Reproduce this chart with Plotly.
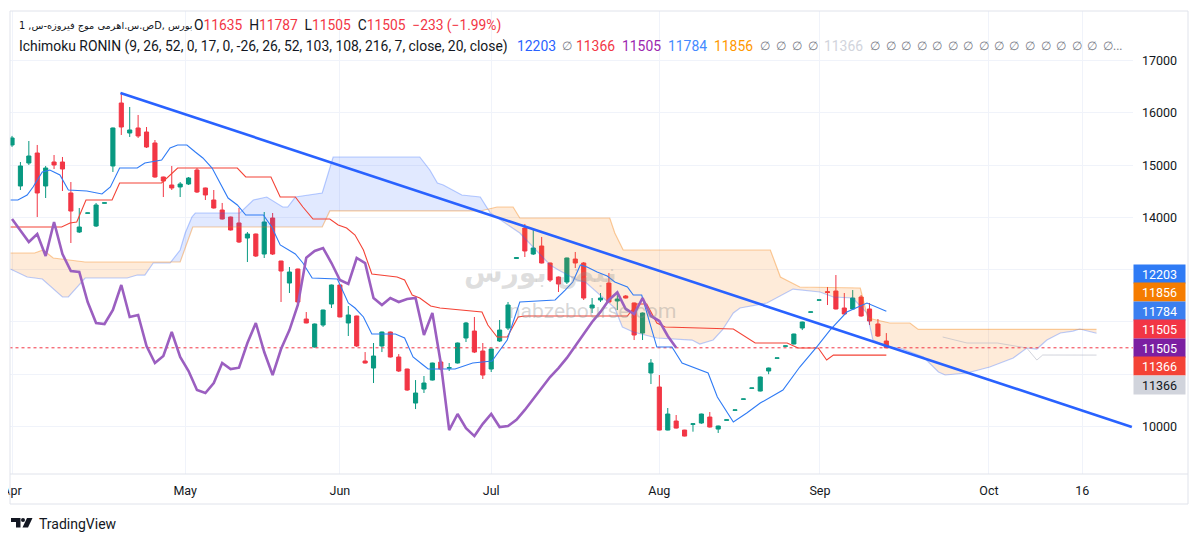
import numpy as np
import plotly.graph_objects as go

# ---------------- data ----------------
bar_index = list(range(105))
opens = [15387, 14602, 15042, 15233, 14602, 15061, 15061, 14468, 13721, 14080,
         13836, 14272, 14985, 16190, 15616, 15712, 15635, 15425, 14774, 14621,
         14583, 14640, 14908, 14564, 14334, 14142, 14008, 13894, 13606, 13683,
         13300, 13989, 13166, 12745, 13013, 12056, 11520, 11941, 12343, 12707,
         11980, 12114, 11252, 11118, 11540, 11807, 11329, 11099, 10448, 10716,
         10888, 11233, 11115, 11214, 11693, 11826, 11444, 11099, 11635, 11884,
         13215, 13798, 13300, 13453, 13128, 12860, 12764, 13204, 13128, 12267,
         12420, 12745, 12401, 12496, 12363, 11788, 11023, 10755, 9931, 10104,
         9931, 10040, 10066, 10180, 9950, 10118, 10310, 10520, 10730, 10678,
         11061, 11305, 11535, 11578, 11884, 12186, 12416, 12580, 12592, 12267,
         12248, 12477, 12248, 11961, 11635]
highs = [15560, 15061, 15463, 15387, 14985, 15195, 15157, 14678, 14181, 14090,
         14277, 14285, 15720, 16382, 16114, 15961, 15731, 15482, 14780, 14985,
         14678, 14774, 14946, 14570, 14525, 14277, 14015, 14181, 13721, 13690,
         14104, 14085, 13170, 13051, 13020, 12190, 11970, 12235, 12715, 12715,
         12305, 12120, 11424, 11597, 11815, 11815, 11385, 11105, 10888, 10965,
         11220, 11240, 11214, 11605, 12000, 12095, 11597, 11490, 12037, 12382,
         13235, 13875, 13760, 13626, 13135, 12870, 13230, 13339, 13147, 12458,
         12554, 12937, 12554, 12515, 12370, 12180, 11290, 10984, 10353, 10219,
         9935, 10060, 10245, 10276, 10015, 10128, 10318, 10528, 10738, 10955,
         11125, 11313, 11543, 11775, 12005, 12194, 12424, 12669, 12898, 12554,
         12611, 12515, 12363, 12056, 11787]
lows = [15350, 14525, 15004, 14008, 14372, 14927, 14506, 13511, 13702, 14078,
        13817, 14270, 14870, 15578, 15540, 15521, 15329, 14760, 14391, 14525,
        14391, 14621, 14468, 14334, 14170, 13960, 13750, 13511, 13147, 13243,
        13224, 13281, 12382, 12554, 12375, 11975, 11510, 11905, 12267, 12090,
        11731, 11520, 11205, 10831, 11424, 11320, 11042, 10680, 10333, 10640,
        10880, 11080, 11061, 11205, 11616, 11405, 10908, 11042, 11616, 11845,
        13210, 13243, 13281, 13120, 12765, 12573, 12726, 13032, 12420, 12171,
        12382, 12375, 12228, 12450, 11654, 11654, 10812, 9925, 9925, 9960,
        9810, 9900, 10050, 9980, 9875, 10118, 10310, 10520, 10730, 10670,
        11000, 11305, 11535, 11570, 11845, 12186, 12416, 12324, 12240, 12145,
        12228, 12100, 11941, 11712, 11505]
closes = [15521, 14985, 15176, 14468, 14946, 15004, 14927, 14123, 13817, 14086,
          14238, 14280, 15712, 15731, 15674, 15559, 15348, 14774, 14697, 14564,
          14640, 14755, 14487, 14430, 14181, 13970, 13760, 13530, 13683, 13262,
          13913, 13300, 12975, 12956, 12382, 11980, 11961, 12228, 12707, 12095,
          12133, 11540, 11214, 11348, 11807, 11329, 11061, 10697, 10640, 10831,
          11214, 11099, 11125, 11597, 11980, 11424, 10984, 11482, 11845, 12324,
          13230, 13358, 13415, 13128, 12802, 12726, 13224, 13128, 12458, 12324,
          12458, 12382, 12439, 12458, 11750, 12171, 11214, 9931, 10238, 9969,
          9816, 10050, 10238, 9989, 10008, 10126, 10316, 10526, 10736, 10946,
          11118, 11311, 11541, 11769, 11999, 12192, 12422, 12565, 12248, 12152,
          12458, 12114, 12018, 11731, 11505]

# Ichimoku lines (vertices: bar index, price)
tenkan_x = [-0.2, 0.7, 1.8, 2.5, 3.6, 4.5, 5.7, 6.7, 8.9, 10.7, 11.7, 12.8, 14.9, 15.8, 17.8,
            18.8, 19.7, 20.8, 21.8, 22.7, 23.8, 24.7, 25.7, 26.8, 27.8, 29.9, 30.9, 31.9,
            33.7, 34.6, 35.7, 38.7, 40.0, 40.8, 41.8, 42.8, 45.6, 46.7, 47.7, 48.9, 49.5,
            52.7, 54.8, 57.1, 58.9, 60.4, 64.6, 65.8, 66.7, 67.6, 68.4, 69.6, 70.8, 71.7,
            73.2, 73.9, 74.9, 76.7, 78.5, 79.7, 82.8, 83.9, 85.8, 87.4, 89.0, 91.7, 93.7,
            95.8, 97.3, 99.3, 101.7, 104]
tenkan_y = [14334, 14334, 14430, 14583, 14870, 14908, 14812, 14525, 14506, 14449, 14583,
            14946, 14946, 15042, 15100, 15329, 15387, 15387, 15253, 15138, 14946, 14659,
            14372, 14238, 14047, 14047, 13817, 13473, 13300, 13128, 12841, 12822, 12363,
            12267, 12095, 11769, 11769, 11693, 11329, 11176, 11099, 11099, 11214, 11252,
            11654, 12382, 12420, 12611, 12764, 13090, 13051, 12956, 12879, 12764, 12669,
            12515, 12515, 11520, 11520, 11214, 11023, 10563, 10084, 10257, 10448, 10697,
            11137, 11539, 11845, 12190, 12363, 12203]
kijun_x = [-0.2, 5.9, 6.9, 7.7, 8.8, 11.9, 12.8, 17.8, 19.7, 26.8, 27.8, 30.8, 31.9, 33.7,
           34.6, 35.8, 37.8, 38.8, 39.8, 40.8, 41.8, 42.8, 45.8, 46.7, 47.6, 48.5, 49.8,
           50.9, 55.9, 56.6, 57.7, 58.9, 60.2, 61.0, 73.2, 74.3, 75.5, 76.7, 77.7, 85.8,
           88.4, 92.2, 93.5, 95.9, 96.9, 97.7, 104]
kijun_y = [13817, 13817, 13894, 13913, 14334, 14334, 14659, 14659, 14946, 14946, 14774,
           14774, 14391, 14391, 14200, 13970, 13970, 13855, 13798, 13664, 13377, 12918,
           12860, 12802, 12515, 12458, 12305, 12267, 12190, 11941, 11712, 11712, 12095,
           12114, 12114, 12343, 12343, 11980, 11903, 11865, 11597, 11597, 11501, 11501,
           11271, 11367, 11366]
senkou_a_x = [-0.2, 1.8, 3.6, 4.8, 6.0, 6.7, 8.7, 13.7, 14.9, 15.8, 16.8, 18.8, 20.0, 20.6,
              21.4, 21.8, 27.1, 28.7, 30.3, 32.2, 32.8, 33.7, 36.9, 38.2, 48.5, 49.7, 50.6,
              51.3, 53.5, 55.7, 56.9, 60.4, 64.0, 65.0, 67.2, 68.2, 71.7, 72.6, 73.9, 76.7,
              80.9, 81.8, 83.4, 84.5, 85.8, 86.6, 89.8, 92.9, 96.1, 97.7, 100.0, 101.7,
              102.4, 104.1, 105.6, 108.4, 110.2, 111.0, 113.6, 116.3, 119.1, 120.7, 121.9,
              123.1, 124.7, 126.2, 127.0, 129]
senkou_a_y = [13013, 12860, 12822, 12650, 12477, 12477, 12841, 12841, 12898, 12898, 13128,
              13128, 13377, 13702, 14009, 14085, 14085, 14334, 14391, 14200, 14200, 14391,
              14468, 15157, 15157, 14908, 14659, 14621, 14430, 14391, 14085, 13702, 13090,
              12994, 12803, 12765, 12267, 11903, 11808, 11693, 11654, 11578, 11654, 11846,
              12171, 12267, 12363, 12630, 12573, 12477, 12458, 12171, 11654, 11520, 11501,
              11329, 11042, 10985, 11023, 11138, 11310, 11501, 11482, 11654, 11788, 11826,
              11865, 11784]
senkou_b_x = [-0.2, 2.7, 3.7, 4.9, 8.7, 20.0, 21.5, 36.9, 37.8, 55.7, 57.7, 59.6, 60.4,
              71.1, 71.7, 72.7, 90.2, 91.4, 93.7, 100.9, 101.8, 104.4, 106.8, 107.8, 129]
senkou_b_y = [13320, 13320, 13377, 13224, 13147, 13147, 13817, 13817, 14124, 14124, 14200,
              14200, 13989, 13989, 13702, 13377, 13377, 12860, 12669, 12650, 12075, 11980,
              11980, 11856, 11856]
extra_x = [110.7, 113.6, 117.2, 120.7, 121.9, 122.6, 129]
extra_y = [11712, 11597, 11597, 11501, 11271, 11367, 11366]
chikou_shift = 25

trend_x = [12.9, 133.2]
trend_y = [16382, 9991]

month_ticks = [0, 20.6, 39.0, 57.0, 77.0, 96.1, 116.2, 127.3]
month_labels = ["Apr", "May", "Jun", "Jul", "Aug", "Sep", "Oct", "16"]
price_ticks = [10000, 11000, 12000, 13000, 14000, 15000, 16000, 17000]
price_tick_text = ["10000", "", "", "", "14000", "15000", "16000", "17000"]

last_price = 11505
tag_values = [12203, 11856, 11784, 11505, 11505, 11366, 11366]
tag_colors = ["#2f7bf5", "#f57c00", "#3b7ff0", "#f23645", "#7b1fa2", "#f44336", "#d1d4dc"]
tag_text_colors = ["#ffffff"] * 6 + ["#131722"]

symbol_title = "ص.س.اهرمی موج فیروزه-س, 1D, بورس"
ohlc_labels = ["O", "H", "L", "C"]
ohlc_values = [11635, 11787, 11505, 11505]
change_text = "−233 (−1.99%)"
indicator_title = "Ichimoku RONIN (9, 26, 52, 0, 17, 0, -26, 26, 52, 103, 108, 216, 7, close, 20, close)"

# ---------------- geometry helpers (page pixels -> paper) ----------------
# the page body has an 8px margin, so the figure is drawn at page offset (8, 8)
OFF = 8
X0, X1, Y0, Y1 = 10, 1133, 11, 474      # plot area in page pixels
W, H = 1200, 543
def pxx(x):
    return (x - X0) / (X1 - X0)
def pxy(y):
    return (Y1 - y) / (Y1 - Y0)

fig = go.Figure()

# ---------------- cloud fill ----------------
xs = np.linspace(-0.2, 129, 4000)
a = np.interp(xs, senkou_a_x, senkou_a_y)
b = np.interp(xs, senkou_b_x, senkou_b_y)
up = a >= b
start = 0
for k in range(1, len(xs) + 1):
    if k == len(xs) or up[k] != up[start]:
        end = min(k + 1, len(xs))
        seg = slice(start, end)
        px_ = np.concatenate([xs[seg], xs[seg][::-1]])
        py_ = np.concatenate([a[seg], b[seg][::-1]])
        col = "rgba(41,98,255,0.14)" if up[start] else "rgba(245,124,0,0.15)"
        fig.add_trace(go.Scatter(x=px_, y=py_, fill="toself", fillcolor=col,
                                 mode="none", hoverinfo="skip", showlegend=False))
        start = k

fig.add_trace(go.Scatter(x=senkou_a_x, y=senkou_a_y, mode="lines",
                         line=dict(color="rgba(41,98,255,0.32)", width=1.2),
                         hoverinfo="skip", showlegend=False))
fig.add_trace(go.Scatter(x=senkou_b_x, y=senkou_b_y, mode="lines",
                         line=dict(color="rgba(245,124,0,0.38)", width=1.2),
                         hoverinfo="skip", showlegend=False))
fig.add_trace(go.Scatter(x=extra_x, y=extra_y, mode="lines",
                         line=dict(color="rgba(180,184,196,0.6)", width=1),
                         hoverinfo="skip", showlegend=False))

# last price dotted line
fig.add_trace(go.Scatter(x=[-0.3, 134], y=[last_price, last_price], mode="lines",
                         line=dict(color="#f23645", width=1, dash="dot"),
                         hoverinfo="skip", showlegend=False))

# kijun / tenkan
fig.add_trace(go.Scatter(x=kijun_x, y=kijun_y, mode="lines",
                         line=dict(color="#f44336", width=1.1),
                         hoverinfo="skip", showlegend=False))
fig.add_trace(go.Scatter(x=tenkan_x, y=tenkan_y, mode="lines",
                         line=dict(color="#2f7bf5", width=1.1),
                         hoverinfo="skip", showlegend=False))

# candles
fig.add_trace(go.Candlestick(
    x=bar_index, open=opens, high=highs, low=lows, close=closes,
    increasing=dict(line=dict(color="#089981", width=1), fillcolor="#089981"),
    decreasing=dict(line=dict(color="#f23645", width=1), fillcolor="#f23645"),
    hoverinfo="skip", showlegend=False))

# chikou (close shifted back)
chikou_x = [i - chikou_shift for i in bar_index if i >= chikou_shift]
chikou_y = [closes[i] for i in bar_index if i >= chikou_shift]
fig.add_trace(go.Scatter(x=chikou_x, y=chikou_y, mode="lines",
                         line=dict(color="#9b5fc0", width=2.6),
                         hoverinfo="skip", showlegend=False))

# trend line
fig.add_trace(go.Scatter(x=trend_x, y=trend_y, mode="lines",
                         line=dict(color="#2962ff", width=2.6),
                         hoverinfo="skip", showlegend=False))

# ---------------- annotations ----------------
ann = []
FONT = "Roboto, Noto Sans, sans-serif"
RED = "#f23645"
G = "#787b86"
NB = "\u00a0"

def txt(x, y, text, color="#131722", size=14, anchor="left", family=FONT):
    ann.append(dict(x=pxx(x), y=pxy(y), xref="paper", yref="paper", text=text,
                    showarrow=False, xanchor=anchor, yanchor="middle",
                    font=dict(family=family, size=size, color=color)))

# header line 1
txt(17, 26, symbol_title, size=9.8, family="DejaVu Sans, Noto Sans")
parts = []
for lab, val in zip(ohlc_labels, ohlc_values):
    parts.append(f"{lab}<span style='color:{RED}'>{val}</span>")
line1 = (NB + NB).join(parts) + NB + NB + f"<span style='color:{RED}'>{change_text}</span>"
txt(192, 26, line1, size=13.8)

# header line 2
txt(17, 46, indicator_title, size=13.9)
tokens = [("12203", "#2962ff", 515), ("∅", G, 560), ("11366", RED, 574),
          ("11505", "#9c27b0", 620), ("11784", "#448aff", 666), ("11856", "#ff9800", 712)]
tokens += [("∅", G, 758 + 16 * k) for k in range(4)]
tokens += [("11366", "#d1d4dc", 822)]
tokens += [("∅", G, 868 + 15.5 * k) for k in range(15)]
tokens += [("∅...", G, 1101)]
for t, c, x in tokens:
    txt(x, 46, t, color=c, size=12 if t.startswith("∅") else 13.9)

# price tags on the axis
tag_centers = [273.5, 292.2, 310.8, 329.3, 347.8, 366.3, 384.8]
for v, bg, fg, cy in zip(tag_values, tag_colors, tag_text_colors, tag_centers):
    ann.append(dict(x=pxx(1133), y=pxy(cy), xref="paper", yref="paper", text=str(v),
                    showarrow=False, xanchor="left", yanchor="middle", width=51,
                    height=18, bgcolor=bg, borderpad=0, align="center",
                    font=dict(family=FONT, size=12.5, color=fg)))

# watermark
txt(592, 311, "nabzebourse.com", color="rgba(140,140,140,0.35)", size=21, anchor="center")
txt(540, 272, "<b>نبض بورس</b>", color="rgba(140,140,140,0.28)", size=28, anchor="center",
    family="DejaVu Sans, Noto Sans")

# TradingView footer
txt(37, 523.5, "TradingView", size=14)

shapes = []
frame = "#e0e3eb"
def hline(y, xa, xb):
    shapes.append(dict(type="line", xref="paper", yref="paper", x0=pxx(xa), x1=pxx(xb),
                       y0=pxy(y), y1=pxy(y), line=dict(color=frame, width=1)))
def vline(x, ya, yb):
    shapes.append(dict(type="line", xref="paper", yref="paper", x0=pxx(x), x1=pxx(x),
                       y0=pxy(ya), y1=pxy(yb), line=dict(color=frame, width=1)))
hline(11, 10, 1188)
hline(474, 10, 1188)
hline(504, 10, 1188)
vline(10, 11, 504)
vline(1188, 11, 504)

def pth(points):
    return "M" + " L".join(f"{pxx(x):.5f},{pxy(y):.5f}" for x, y in points) + " Z"
logo = "#131722"
shapes.append(dict(type="path", xref="paper", yref="paper",
                   path=pth([(11, 518), (20.5, 518), (20.5, 527.5), (16, 527.5), (16, 522), (11, 522)]),
                   fillcolor=logo, line=dict(width=0)))
shapes.append(dict(type="circle", xref="paper", yref="paper",
                   x0=pxx(21), x1=pxx(25), y0=pxy(518), y1=pxy(522),
                   fillcolor=logo, line=dict(width=0)))
shapes.append(dict(type="path", xref="paper", yref="paper",
                   path=pth([(27, 518), (32.5, 518), (28, 527.5), (22.5, 527.5)]),
                   fillcolor=logo, line=dict(width=0)))

fig.update_layout(
    width=W, height=H,
    margin=dict(l=X0 - OFF, r=W - (X1 - OFF), t=Y0 - OFF, b=H - (Y1 - OFF), autoexpand=False),
    paper_bgcolor="#ffffff", plot_bgcolor="#ffffff",
    showlegend=False,
    annotations=ann, shapes=shapes,
    font=dict(family=FONT, color="#131722"),
    xaxis=dict(range=[-0.24, 133.34], tickvals=month_ticks, ticktext=month_labels,
               showgrid=True, gridcolor="#f0f3fa", gridwidth=1, zeroline=False,
               showline=False, ticks="", rangeslider=dict(visible=False),
               tickfont=dict(size=12.5, color="#131722"), ticklabelstandoff=7,
               ticklabeloverflow="allow",
               automargin=False, fixedrange=True),
    yaxis=dict(range=[9090, 17951], side="right", tickvals=price_ticks,
               ticktext=price_tick_text,
               showgrid=True, gridcolor="#f0f3fa", gridwidth=1, zeroline=False,
               showline=False, ticks="", ticklabelstandoff=8,
               tickfont=dict(size=12.5, color="#131722"),
               automargin=False, fixedrange=True),
)

fig.write_html("out.html")
